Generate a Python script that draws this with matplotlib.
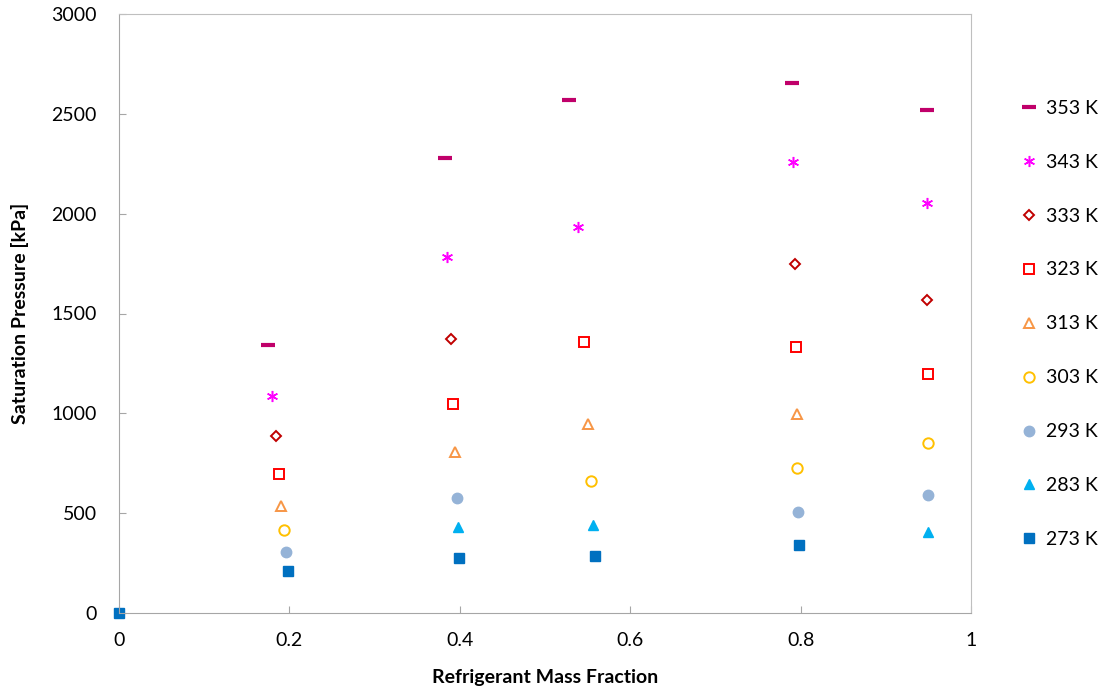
import matplotlib
matplotlib.use('Agg')
import matplotlib.pyplot as plt

plt.rcParams['font.family'] = ['Lato', 'DejaVu Sans']

# temperatures, top of legend first
labels = ['353 K', '343 K', '333 K', '323 K', '313 K', '303 K', '293 K', '283 K', '273 K']

x_353 = [0.175, 0.383, 0.528, 0.790, 0.948]
y_353 = [1342, 2279, 2569, 2654, 2519]
x_343 = [0.180, 0.385, 0.539, 0.791, 0.948]
y_343 = [1087, 1783, 1933, 2259, 2053]
x_333 = [0.184, 0.390, 0.793, 0.948]
y_333 = [886, 1372, 1748, 1568]
x_323 = [0.188, 0.392, 0.546, 0.795, 0.949]
y_323 = [696, 1047, 1357, 1332, 1197]
x_313 = [0.190, 0.394, 0.550, 0.796]
y_313 = [536, 806, 947, 997]
x_303 = [0.194, 0.554, 0.796, 0.949]
y_303 = [416, 661, 726, 851]
x_293 = [0.196, 0.397, 0.797, 0.949]
y_293 = [305, 576, 506, 591]
x_283 = [0.398, 0.556, 0.949]
y_283 = [431, 441, 406]
x_273 = [0.0, 0.198, 0.399, 0.559, 0.798]
y_273 = [0, 210, 275, 285, 341]

xs = [x_353, x_343, x_333, x_323, x_313, x_303, x_293, x_283, x_273]
ys = [y_353, y_343, y_333, y_323, y_313, y_303, y_293, y_283, y_273]

colors = ['#C0006A', '#FF00FF', '#C00000', '#FF0000', '#F79646',
          '#FFC000', '#95B3D7', '#00B0F0', '#0070C0']
markers = ['_', '*', 'D', 's', '^', 'o', 'o', '^', 's']
filled = [True, True, False, False, False, False, True, True, True]
sizes = [10, 8, 5.5, 7.5, 7.5, 7.5, 7.5, 7.5, 7.5]

fig = plt.figure(figsize=(11.02, 6.98), dpi=100)
ax = fig.add_axes([119/1102, 1 - 613/698, 852/1102, 599/698])

for x, y, c, m, f, s, lab in zip(xs, ys, colors, markers, filled, sizes, labels):
    if m == '*':
        # asterisk: six spokes
        ax.plot(x, y, linestyle='none', marker=(6, 2, 0), ms=s, mec=c, mew=1.1,
                label=lab, clip_on=False)
    elif m == '_':
        ax.plot(x, y, linestyle='none', marker='_', ms=s, mec=c, mew=3, label=lab,
                clip_on=False)
    elif f:
        ax.plot(x, y, linestyle='none', marker=m, ms=s, mfc=c, mec=c, label=lab,
                clip_on=False)
    else:
        ax.plot(x, y, linestyle='none', marker=m, ms=s, mfc='none', mec=c, mew=1.4,
                label=lab, clip_on=False)

ax.set_xlim(0, 1)
ax.set_ylim(0, 3000)
ax.set_xticks([0, 0.2, 0.4, 0.6, 0.8, 1.0])
ax.set_xticklabels(['0', '0.2', '0.4', '0.6', '0.8', '1'])
ax.set_yticks(range(0, 3001, 500))
ax.tick_params(direction='in', length=5, color='#A6A6A6', labelsize=14)
ax.tick_params(axis='y', pad=16)
ax.tick_params(axis='x', pad=14)

for side in ['left', 'bottom']:
    ax.spines[side].set_color('#A6A6A6')
for side in ['top', 'right']:
    ax.spines[side].set_color('#BFBFBF')

ax.set_xlabel('Refrigerant Mass Fraction', fontsize=14, fontweight='bold', labelpad=14)
ax.set_ylabel('Saturation Pressure [kPa]', fontsize=14, fontweight='bold', labelpad=16)

ax.legend(loc='upper left', bbox_to_anchor=(1.045, 0.87), frameon=False,
          fontsize=14, labelspacing=1.9, handletextpad=0.3, handlelength=1.2,
          borderaxespad=0)

fig.savefig('out.png', dpi=100)
